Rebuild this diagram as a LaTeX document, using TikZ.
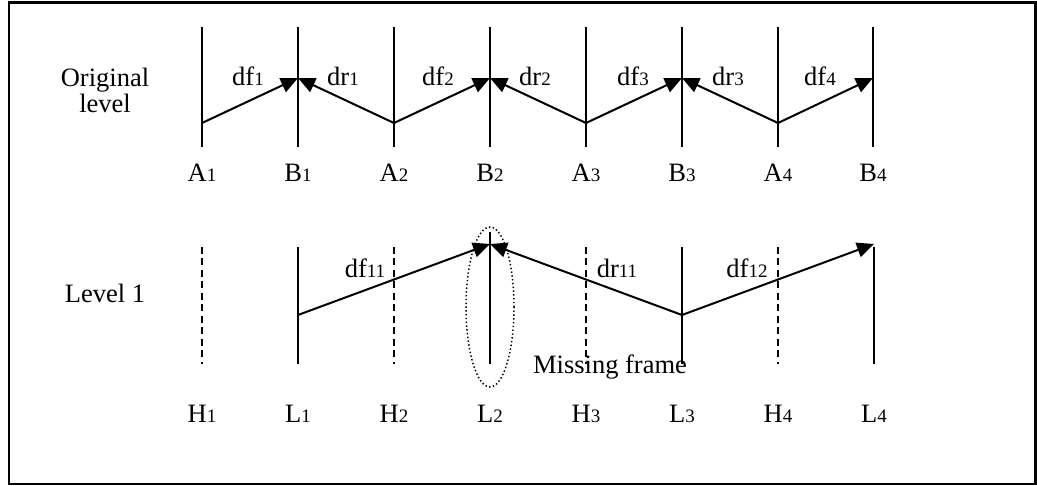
\documentclass[tikz,border=0pt]{standalone}
\usepackage{fontspec}
\setmainfont{Liberation Serif}
\usetikzlibrary{arrows.meta,shapes.geometric}
\newcommand{\ix}[1]{{\fontsize{19}{19}\selectfont #1}}
\begin{document}
\begin{tikzpicture}[x=1pt,y=-1pt,
  every node/.style={font=\fontsize{26.5}{28}\selectfont, inner sep=0pt},
  frameline/.style={line width=2pt},
  holeline/.style={line width=2pt, dash pattern=on 7pt off 4.5pt},
  motion/.style={line width=2pt, -{Triangle[length=17pt,width=15pt]}},
  lbl/.style={anchor=base},
  missing/.style={draw, ellipse, line width=1.5pt, dash pattern=on 1.4pt off 2.4pt,
    minimum width=48pt, minimum height=160pt}]
\useasboundingbox (0,0) rectangle (1037,486);
\draw[line width=2.5pt] (9,2.5) rectangle (1035.5,484);

% original level: frame columns
\foreach \n/\x in {a1/202,b1/298,a2/394,b2/490,a3/586,b3/682,a4/778,b4/873}{
  \coordinate (\n t) at (\x,27);
  \coordinate (\n b) at (\x,147);
  \coordinate (\n m) at (\x,78);
  \coordinate (\n l) at (\x,123);
  \draw[frameline] (\n t) -- (\n b);
}
\node[lbl] (lA1) at (202,182) {A\ix{1}};
\node[lbl] (lB1) at (298,182) {B\ix{1}};
\node[lbl] (lA2) at (394,182) {A\ix{2}};
\node[lbl] (lB2) at (490,182) {B\ix{2}};
\node[lbl] (lA3) at (586,182) {A\ix{3}};
\node[lbl] (lB3) at (682,182) {B\ix{3}};
\node[lbl] (lA4) at (778,182) {A\ix{4}};
\node[lbl] (lB4) at (873,182) {B\ix{4}};

\draw[motion] (a1l) -- (b1m);
\draw[motion] (a2l) -- (b1m);
\draw[motion] (a2l) -- (b2m);
\draw[motion] (a3l) -- (b2m);
\draw[motion] (a3l) -- (b3m);
\draw[motion] (a4l) -- (b3m);
\draw[motion] (a4l) -- (b4m);

\node[lbl] (tdf1) at (248,86) {df\ix{1}};
\node[lbl] (tdr1) at (343,86) {dr\ix{1}};
\node[lbl] (tdf2) at (438,86) {df\ix{2}};
\node[lbl] (tdr2) at (535,86) {dr\ix{2}};
\node[lbl] (tdf3) at (633,86) {df\ix{3}};
\node[lbl] (tdr3) at (728,86) {dr\ix{3}};
\node[lbl] (tdf4) at (820,86) {df\ix{4}};

\node[align=center, font=\fontsize{26.5}{26}\selectfont] (orig) at (105,90) {Original\\level};

% level 1: low-pass (solid) and high-pass (dashed) columns
\foreach \n/\x in {h1/202,h2/394,h3/586,h4/778}{
  \coordinate (\n t) at (\x,247);
  \coordinate (\n b) at (\x,364);
  \draw[holeline] (\n t) -- (\n b);
}
\foreach \n/\x in {l1/298,l2/490,l3/682,l4/874}{
  \coordinate (\n t) at (\x,247);
  \coordinate (\n b) at (\x,364);
  \coordinate (\n m) at (\x,244);
  \coordinate (\n l) at (\x,315);
}
\foreach \n in {l1,l3,l4}{\draw[frameline] (\n t) -- (\n b);}
\draw[frameline] (490,232) -- (l2b);

\draw[motion] (l1l) -- (l2m);
\draw[motion] (l3l) -- (l2m);
\draw[motion] (l3l) -- (l4m);

\node[missing] (gap) at (490,307) {};
\node[lbl] (miss) at (610,374) {Missing frame};

\node[lbl] (df11) at (365,277.5) {df\ix{11}};
\node[lbl] (dr11) at (617,277.5) {dr\ix{11}};
\node[lbl] (df12) at (747,277.5) {df\ix{12}};

\node[lbl] (lH1) at (202,423) {H\ix{1}};
\node[lbl] (lL1) at (298,423) {L\ix{1}};
\node[lbl] (lH2) at (394,423) {H\ix{2}};
\node[lbl] (lL2) at (490,423) {L\ix{2}};
\node[lbl] (lH3) at (586,423) {H\ix{3}};
\node[lbl] (lL3) at (682,423) {L\ix{3}};
\node[lbl] (lH4) at (778,423) {H\ix{4}};
\node[lbl] (lL4) at (874,423) {L\ix{4}};

\node (lev1) at (105,293) {Level 1};
\end{tikzpicture}
\end{document}
